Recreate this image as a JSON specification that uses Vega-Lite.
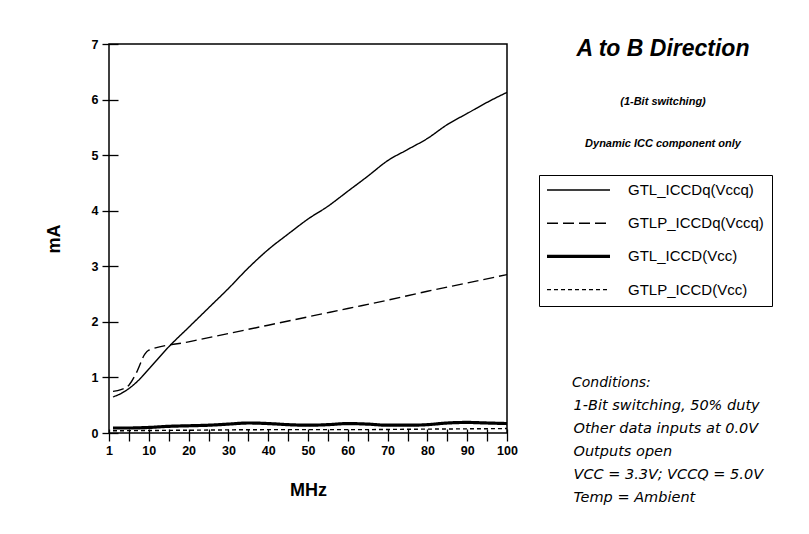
{
  "$schema": "https://vega.github.io/schema/vega-lite/v6.json",
  "width": 398,
  "height": 389,
  "autosize": {"type": "none"},
  "padding": {"left": 109, "top": 44, "right": 302, "bottom": 101},
  "background": "white",
  "config": {
    "view": {"stroke": "black", "strokeWidth": 1.5},
    "font": "Liberation Sans"
  },
  "title": {
    "text": "A to B Direction",
    "subtitle": ["(1-Bit switching)", "Dynamic ICC component only"],
    "anchor": "middle",
    "frame": "group",
    "orient": "top",
    "offset": 0,
    "dx": 355,
    "dy": 111,
    "font": "Liberation Sans",
    "fontSize": 23,
    "fontStyle": "italic",
    "fontWeight": "bold",
    "color": "black",
    "subtitleFont": "Liberation Sans",
    "subtitleFontSize": 11,
    "subtitleFontStyle": "italic",
    "subtitleFontWeight": "bold",
    "subtitleColor": "black",
    "subtitleLineHeight": 42,
    "subtitlePadding": 35
  },
  "layer": [
    {
      "data": {
        "values": [
          {"series": "GTL_ICCDq(Vccq)", "mhz": 1, "ma": 0.65},
          {"series": "GTL_ICCDq(Vccq)", "mhz": 3, "ma": 0.71},
          {"series": "GTL_ICCDq(Vccq)", "mhz": 5, "ma": 0.8},
          {"series": "GTL_ICCDq(Vccq)", "mhz": 7, "ma": 0.92},
          {"series": "GTL_ICCDq(Vccq)", "mhz": 10, "ma": 1.15},
          {"series": "GTL_ICCDq(Vccq)", "mhz": 15, "ma": 1.55},
          {"series": "GTL_ICCDq(Vccq)", "mhz": 20, "ma": 1.9},
          {"series": "GTL_ICCDq(Vccq)", "mhz": 25, "ma": 2.25},
          {"series": "GTL_ICCDq(Vccq)", "mhz": 30, "ma": 2.6},
          {"series": "GTL_ICCDq(Vccq)", "mhz": 35, "ma": 2.97},
          {"series": "GTL_ICCDq(Vccq)", "mhz": 40, "ma": 3.3},
          {"series": "GTL_ICCDq(Vccq)", "mhz": 45, "ma": 3.58},
          {"series": "GTL_ICCDq(Vccq)", "mhz": 50, "ma": 3.85},
          {"series": "GTL_ICCDq(Vccq)", "mhz": 55, "ma": 4.08},
          {"series": "GTL_ICCDq(Vccq)", "mhz": 60, "ma": 4.35},
          {"series": "GTL_ICCDq(Vccq)", "mhz": 65, "ma": 4.62},
          {"series": "GTL_ICCDq(Vccq)", "mhz": 70, "ma": 4.9},
          {"series": "GTL_ICCDq(Vccq)", "mhz": 75, "ma": 5.1},
          {"series": "GTL_ICCDq(Vccq)", "mhz": 80, "ma": 5.3},
          {"series": "GTL_ICCDq(Vccq)", "mhz": 85, "ma": 5.55},
          {"series": "GTL_ICCDq(Vccq)", "mhz": 90, "ma": 5.75},
          {"series": "GTL_ICCDq(Vccq)", "mhz": 95, "ma": 5.95},
          {"series": "GTL_ICCDq(Vccq)", "mhz": 100, "ma": 6.13},
          {"series": "GTLP_ICCDq(Vccq)", "mhz": 1, "ma": 0.75},
          {"series": "GTLP_ICCDq(Vccq)", "mhz": 3, "ma": 0.78},
          {"series": "GTLP_ICCDq(Vccq)", "mhz": 5, "ma": 0.86},
          {"series": "GTLP_ICCDq(Vccq)", "mhz": 7, "ma": 1.1},
          {"series": "GTLP_ICCDq(Vccq)", "mhz": 9, "ma": 1.42},
          {"series": "GTLP_ICCDq(Vccq)", "mhz": 10, "ma": 1.49},
          {"series": "GTLP_ICCDq(Vccq)", "mhz": 20, "ma": 1.64},
          {"series": "GTLP_ICCDq(Vccq)", "mhz": 30, "ma": 1.79},
          {"series": "GTLP_ICCDq(Vccq)", "mhz": 40, "ma": 1.94},
          {"series": "GTLP_ICCDq(Vccq)", "mhz": 50, "ma": 2.09},
          {"series": "GTLP_ICCDq(Vccq)", "mhz": 60, "ma": 2.24},
          {"series": "GTLP_ICCDq(Vccq)", "mhz": 70, "ma": 2.39},
          {"series": "GTLP_ICCDq(Vccq)", "mhz": 80, "ma": 2.55},
          {"series": "GTLP_ICCDq(Vccq)", "mhz": 90, "ma": 2.7},
          {"series": "GTLP_ICCDq(Vccq)", "mhz": 100, "ma": 2.85},
          {"series": "GTL_ICCD(Vcc)", "mhz": 1, "ma": 0.09},
          {"series": "GTL_ICCD(Vcc)", "mhz": 5, "ma": 0.09},
          {"series": "GTL_ICCD(Vcc)", "mhz": 10, "ma": 0.1},
          {"series": "GTL_ICCD(Vcc)", "mhz": 15, "ma": 0.12},
          {"series": "GTL_ICCD(Vcc)", "mhz": 20, "ma": 0.13},
          {"series": "GTL_ICCD(Vcc)", "mhz": 25, "ma": 0.14},
          {"series": "GTL_ICCD(Vcc)", "mhz": 30, "ma": 0.16},
          {"series": "GTL_ICCD(Vcc)", "mhz": 35, "ma": 0.18},
          {"series": "GTL_ICCD(Vcc)", "mhz": 40, "ma": 0.17},
          {"series": "GTL_ICCD(Vcc)", "mhz": 45, "ma": 0.15},
          {"series": "GTL_ICCD(Vcc)", "mhz": 50, "ma": 0.14},
          {"series": "GTL_ICCD(Vcc)", "mhz": 55, "ma": 0.15},
          {"series": "GTL_ICCD(Vcc)", "mhz": 60, "ma": 0.17},
          {"series": "GTL_ICCD(Vcc)", "mhz": 65, "ma": 0.16},
          {"series": "GTL_ICCD(Vcc)", "mhz": 70, "ma": 0.14},
          {"series": "GTL_ICCD(Vcc)", "mhz": 75, "ma": 0.14},
          {"series": "GTL_ICCD(Vcc)", "mhz": 80, "ma": 0.15},
          {"series": "GTL_ICCD(Vcc)", "mhz": 85, "ma": 0.18},
          {"series": "GTL_ICCD(Vcc)", "mhz": 90, "ma": 0.19},
          {"series": "GTL_ICCD(Vcc)", "mhz": 95, "ma": 0.18},
          {"series": "GTL_ICCD(Vcc)", "mhz": 100, "ma": 0.17},
          {"series": "GTLP_ICCD(Vcc)", "mhz": 1, "ma": 0.04},
          {"series": "GTLP_ICCD(Vcc)", "mhz": 20, "ma": 0.05},
          {"series": "GTLP_ICCD(Vcc)", "mhz": 40, "ma": 0.06},
          {"series": "GTLP_ICCD(Vcc)", "mhz": 60, "ma": 0.06},
          {"series": "GTLP_ICCD(Vcc)", "mhz": 80, "ma": 0.07},
          {"series": "GTLP_ICCD(Vcc)", "mhz": 100, "ma": 0.08}
        ]
      },
      "mark": {"type": "line", "color": "black", "interpolate": "monotone", "clip": true},
      "encoding": {
        "x": {
          "field": "mhz",
          "type": "quantitative",
          "scale": {"domain": [0, 100], "nice": false, "zero": false},
          "axis": {
            "title": "MHz",
            "values": [0, 5, 10, 15, 20, 25, 30, 35, 40, 45, 50, 55, 60, 65, 70, 75, 80, 85, 90, 95, 100],
            "labelExpr": "datum.value === 0 ? '1' : (datum.value % 10 === 0 ? datum.label : '')",
            "grid": false,
            "domain": false,
            "offset": -4,
            "tickSize": 12,
            "tickColor": "black",
            "tickWidth": 1.3,
            "labelFont": "Liberation Sans",
            "labelFontSize": 12.5,
            "labelFontWeight": "bold",
            "labelColor": "black",
            "labelPadding": 3,
            "labelOverlap": false,
            "labelFlush": false,
            "titleFont": "Liberation Sans",
            "titleFontSize": 18,
            "titleFontWeight": "bold",
            "titleColor": "black",
            "titlePadding": 25
          }
        },
        "y": {
          "field": "ma",
          "type": "quantitative",
          "scale": {"domain": [0, 7], "nice": false},
          "axis": {
            "title": "mA",
            "values": [0, 1, 2, 3, 4, 5, 6, 7],
            "grid": false,
            "domain": false,
            "offset": -9,
            "tickSize": 16,
            "tickColor": "black",
            "tickWidth": 1.3,
            "labelFont": "Liberation Sans",
            "labelFontSize": 12.5,
            "labelFontWeight": "bold",
            "labelColor": "black",
            "labelPadding": 4,
            "labelFlush": false,
            "labelOverlap": false,
            "titleFont": "Liberation Sans",
            "titleFontSize": 18,
            "titleFontWeight": "bold",
            "titleColor": "black",
            "titlePadding": 28
          }
        },
        "strokeDash": {
          "field": "series",
          "type": "nominal",
          "scale": {
            "domain": ["GTL_ICCDq(Vccq)", "GTLP_ICCDq(Vccq)", "GTL_ICCD(Vcc)", "GTLP_ICCD(Vcc)"],
            "range": [[1, 0], [11, 5], [1, 0], [4, 3]]
          },
          "legend": {
            "orient": "none",
            "legendX": 430,
            "legendY": 131,
            "title": null,
            "symbolType": "M-1,0H8",
            "symbolSize": 196,
            "symbolStrokeColor": "black",
            "symbolStrokeWidth": 1.4,
            "symbolFillColor": "transparent",
            "labelFont": "Liberation Sans",
            "labelFontSize": 15,
            "labelColor": "black",
            "labelOffset": 66.5,
            "labelLimit": 400,
            "labelExpr": "datum.label + '    '",
            "rowPadding": 17.2,
            "padding": 7.5,
            "strokeColor": "black",
            "encode": {
              "symbols": {
                "update": {
                  "strokeWidth": {"signal": "datum.value === 'GTL_ICCD(Vcc)' ? 3.2 : 1.4"}
                }
              }
            }
          }
        },
        "strokeWidth": {
          "condition": {"test": "datum.series === 'GTL_ICCD(Vcc)'", "value": 3.2},
          "value": 1.4
        }
      }
    },
    {
      "data": {
        "values": [
          {"cond": "1-Bit switching, 50% duty"},
          {"cond": "Other data inputs at 0.0V"},
          {"cond": "Outputs open"},
          {"cond": "VCC = 3.3V; VCCQ = 5.0V"},
          {"cond": "Temp = Ambient"}
        ]
      },
      "mark": {"type": "point", "opacity": 0, "size": 0},
      "encoding": {
        "shape": {
          "field": "cond",
          "type": "nominal",
          "scale": {
            "domain": ["1-Bit switching, 50% duty", "Other data inputs at 0.0V", "Outputs open", "VCC = 3.3V; VCCQ = 5.0V", "Temp = Ambient"]
          },
          "legend": {
            "orient": "none",
            "legendX": 463,
            "legendY": 332,
            "title": "Conditions:",
            "titleFont": "DejaVu Sans",
            "titleFontSize": 14,
            "titleFontStyle": "italic",
            "titleFontWeight": "normal",
            "titleColor": "black",
            "titlePadding": 9,
            "labelFont": "DejaVu Sans",
            "labelFontSize": 14.5,
            "labelFontStyle": "italic",
            "labelColor": "black",
            "labelLimit": 300,
            "labelOffset": -13,
            "symbolSize": 1,
            "symbolOpacity": 0,
            "symbolStrokeWidth": 0,
            "rowPadding": 8,
            "padding": 0
          }
        }
      }
    }
  ]
}
